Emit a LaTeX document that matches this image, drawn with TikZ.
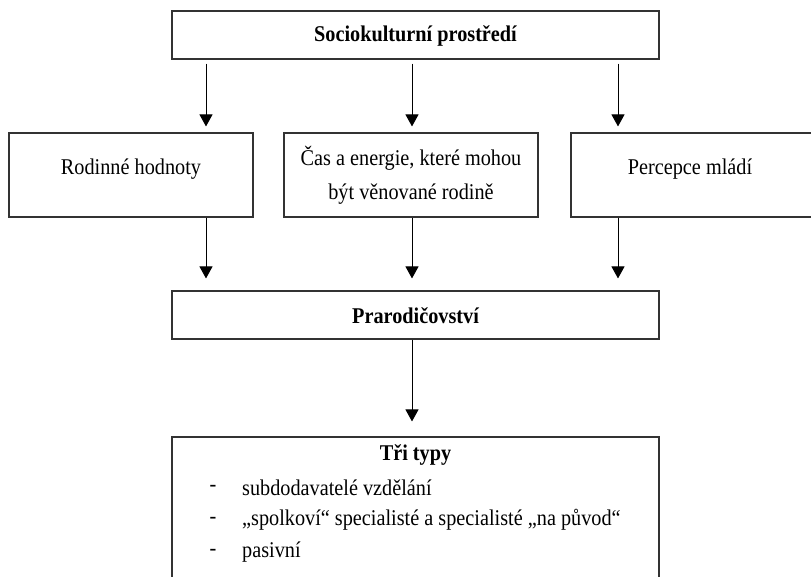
\documentclass[tikz,border=0pt]{standalone}
\usepackage{fontspec}
\setmainfont{Liberation Serif}
\usetikzlibrary{arrows.meta}
\tikzset{
  box/.style={draw=black!80, line width=1.1pt, rectangle, inner sep=0pt, fill=white},
  txt/.style={inner sep=0pt, xscale=0.9, font=\fontsize{22.5}{26}\selectfont},
  btxt/.style={inner sep=0pt, xscale=0.9, font=\fontsize{22.5}{26}\selectfont\bfseries},
  arr/.style={line width=1pt, -{Triangle[width=13pt,length=12pt]}},
}
\begin{document}
\begin{tikzpicture}[x=1pt,y=1pt]
\useasboundingbox (0,0) rectangle (811,577);
\clip (0,0) rectangle (811,577);
% boxes
\node[box, minimum width=487pt, minimum height=48pt] (soc) at (415.5,542) {};
\node[btxt] at (415.5,541) {Sociokulturní prostředí};
\node[box, minimum width=244pt, minimum height=84pt] (rod) at (131,402) {};
\node[box, minimum width=254pt, minimum height=84pt] (cas) at (411,402) {};
\node[box, minimum width=244pt, minimum height=84pt] (per) at (693,402) {};
\node[txt] (rodt) at (131,408) {Rodinné hodnoty};
\node[txt] (cast1) at (411,419) {Čas a energie, které mohou};
\node[txt] (cast2) at (411,383) {být věnované rodině};
\node[txt] (pert) at (690,408) {Percepce mládí};
\node[box, minimum width=487pt, minimum height=48pt] (pra) at (415.5,262) {};
\node[btxt] at (415.5,261) {Prarodičovství};
\node[box, minimum width=487pt, minimum height=148pt] (tri) at (415.5,66) {};
\node[btxt] (trit) at (415.5,122) {Tři typy};
\node[txt] (d1) at (213,89) {-};
\node[txt] (d2) at (213,57) {-};
\node[txt] (d3) at (213,25) {-};
\node[txt, anchor=west] (i1) at (242,89) {subdodavatelé vzdělání};
\node[txt, anchor=west] (i2) at (242,57) {„spolkoví“ specialisté a specialisté „na původ“};
\node[txt, anchor=west] (i3) at (242,25) {pasivní};
% arrow columns
\coordinate (c1) at (206,0);
\coordinate (c2) at (412,0);
\coordinate (c3) at (618,0);
\draw[arr, shorten <=4pt, shorten >=6pt] (soc.south -| c1) -- (rod.north -| c1);
\draw[arr, shorten <=4pt, shorten >=6pt] (soc.south -| c2) -- (cas.north -| c2);
\draw[arr, shorten <=4pt, shorten >=6pt] (soc.south -| c3) -- (per.north -| c3);
\draw[arr, shorten >=12pt] (rod.south -| c1) -- (pra.north -| c1);
\draw[arr, shorten >=12pt] (cas.south -| c2) -- (pra.north -| c2);
\draw[arr, shorten >=12pt] (per.south -| c3) -- (pra.north -| c3);
\draw[arr, shorten >=15pt] (pra.south -| c2) -- (tri.north -| c2);
\end{tikzpicture}
\end{document}
